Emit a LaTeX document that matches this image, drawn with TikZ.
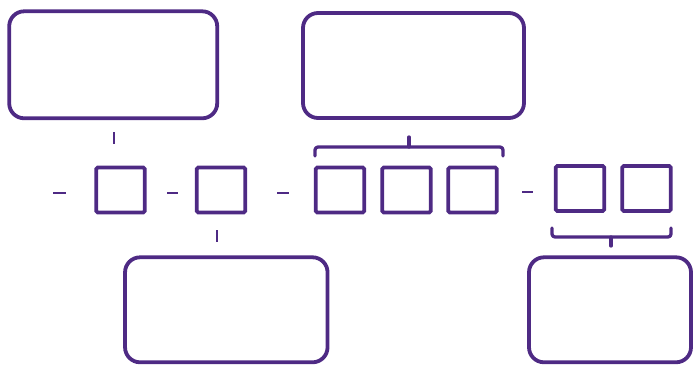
\documentclass[tikz,border=0pt]{standalone}
\definecolor{vio}{HTML}{4E2A84}
\tikzset{
  bigbox/.style={draw=vio, line width=3.8pt, rounded corners=15pt, inner sep=0pt, outer sep=0pt},
  sqbox/.style={draw=vio, line width=3.8pt, rounded corners=1.5pt, minimum width=48.5pt, minimum height=45pt, inner sep=0pt, outer sep=0pt},
  tick/.style={draw=vio, line width=2pt},
  brace/.style={draw=vio, line width=3.3pt, line cap=round, line join=round, rounded corners=3pt}
}
\begin{document}
\begin{tikzpicture}[x=1pt, y=-1pt]
\useasboundingbox (0,0) rectangle (694,365);
% big boxes
\node[bigbox, minimum width=208pt, minimum height=107pt] (tl) at (113.2,64.8) {};
\node[bigbox, minimum width=221pt, minimum height=105pt] (tm) at (413.5,65.5) {};
\node[bigbox, minimum width=202.5pt, minimum height=105pt] (bl) at (226.3,309.8) {};
\node[bigbox, minimum width=162pt, minimum height=105pt] (br) at (610,309.8) {};
% squares
\node[sqbox] (s1) at (120.5,190) {};
\node[sqbox] (s2) at (221,190) {};
\node[sqbox] (s3) at (340,190) {};
\node[sqbox] (s4) at (406.5,190) {};
\node[sqbox] (s5) at (472.5,190) {};
\node[sqbox] (s6) at (580,188.5) {};
\node[sqbox] (s7) at (646.5,188.5) {};
% dashes
\coordinate (d1a) at (53,193); \coordinate (d1b) at (66,193);
\coordinate (d2a) at (167,193); \coordinate (d2b) at (178,193);
\coordinate (d3a) at (277,193); \coordinate (d3b) at (289,193);
\coordinate (d4a) at (522,192); \coordinate (d4b) at (533,192);
\draw[tick] (d1a) -- (d1b);
\draw[tick] (d2a) -- (d2b);
\draw[tick] (d3a) -- (d3b);
\draw[tick] (d4a) -- (d4b);
% vertical ticks
\coordinate (t1a) at (114,132); \coordinate (t1b) at (114,144);
\coordinate (t2a) at (217,230); \coordinate (t2b) at (217,242);
\draw[tick] (t1a) -- (t1b);
\draw[tick] (t2a) -- (t2b);
% bracket over s3-s5
\coordinate (b1l) at (315,156); \coordinate (b1r) at (503,156);
\coordinate (b1m) at (409,147); \coordinate (b1t) at (409,137);
\draw[brace] (b1l) -- (315,147) -- (503,147) -- (b1r);
\draw[brace, rounded corners=0pt] (b1m) -- (b1t);
% bracket under s6-s7
\coordinate (b2l) at (552,228); \coordinate (b2r) at (671,228);
\coordinate (b2m) at (611,237); \coordinate (b2b) at (611,246);
\draw[brace] (b2l) -- (552,237) -- (671,237) -- (b2r);
\draw[brace, rounded corners=0pt] (b2m) -- (b2b);
\end{tikzpicture}
\end{document}
